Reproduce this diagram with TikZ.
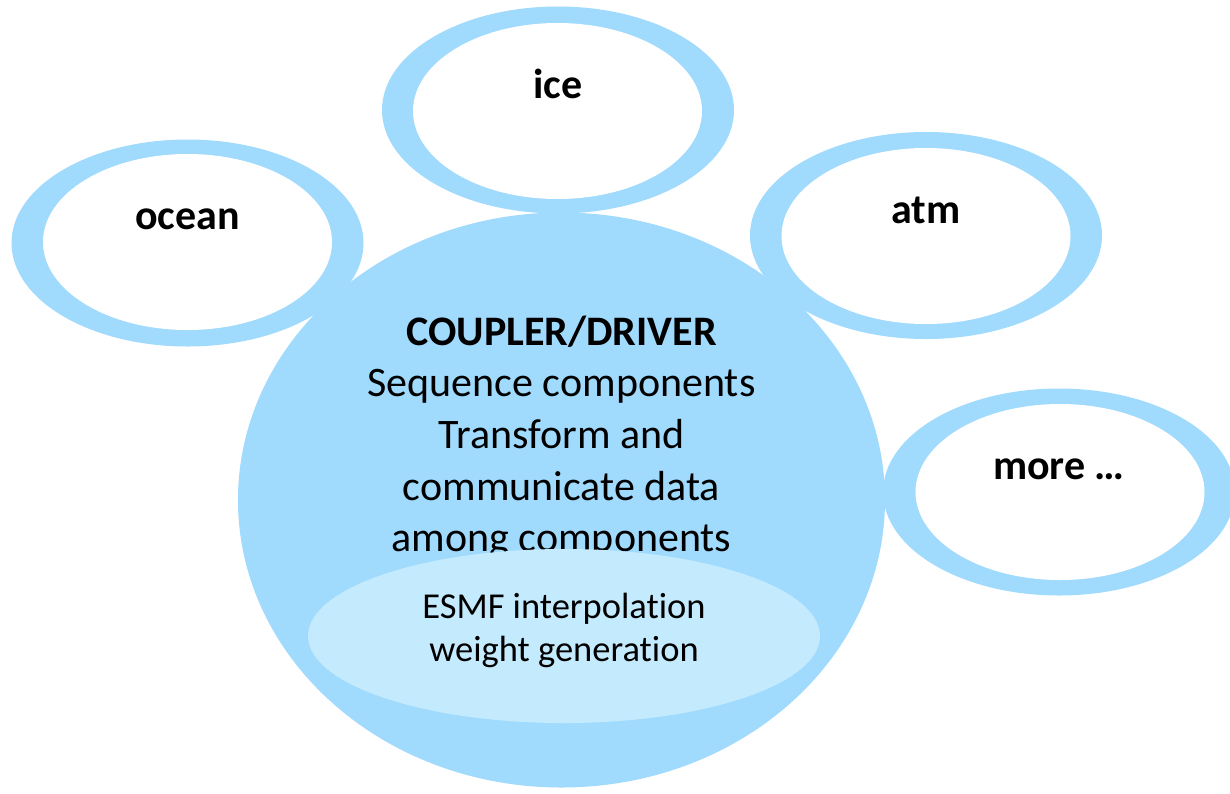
\documentclass[tikz,border=0pt]{standalone}
\usepackage{fontspec}
\setmainfont{Carlito}[Ligatures=NoCommon]
\usetikzlibrary{shapes.geometric}
\definecolor{ringblue}{RGB}{160,218,253}
\definecolor{paleblue}{RGB}{196,235,253}
\tikzset{
  blob/.style={ellipse, inner sep=0pt, draw=none, fill=#1},
  ring/.style={blob=ringblue, minimum width=352pt, minimum height=207pt},
  hole/.style={blob=white, minimum width=289pt, minimum height=176pt},
  tag/.style={anchor=base, inner sep=0pt, font=\fontsize{42}{51}\selectfont\bfseries},
  txt/.style={anchor=base, inner sep=0pt, font=\fontsize{42}{51}\selectfont},
  smalltxt/.style={anchor=base, inner sep=0pt, font=\fontsize{36.5}{43}\selectfont}
}
\begin{document}
\begin{tikzpicture}[x=1pt, y=-1pt]
  \useasboundingbox (0,0) rectangle (1230,793);
  \clip (0,0) rectangle (1230,793);

  % central coupler body
  \node[blob=ringblue, minimum width=647pt, minimum height=575pt] (cpl) at (561.5,500) {};
  \node[tag] (cplhead) at (561.5,345) {COUPLER/DRIVER};
  \node[txt] (cpl1) at (561.5,396.7) {Sequence components};
  \node[txt] (cpl2) at (561.5,448.4) {Transform and};
  \node[txt] (cpl3) at (561.5,500.1) {communicate data};
  \node[txt] (cpl4) at (561.5,551.8) {among components};

  % regridding core inside the coupler
  \node[blob=paleblue, minimum width=512pt, minimum height=174pt] (esmf) at (564,636) {};
  \node[smalltxt] (esmf1) at (564,618) {ESMF interpolation};
  \node[smalltxt] (esmf2) at (564,661) {weight generation};

  % component model rings
  \node[ring] (oceanring) at (187.5,243) {};
  \node[hole] (oceanhole) at (187.5,242) {};
  \node[tag] (ocean) at (187.5,229) {ocean};

  \node[ring] (icering) at (558,110) {};
  \node[hole] (icehole) at (557.5,111) {};
  \node[tag] (ice) at (558,98) {ice};

  \node[ring] (atmring) at (926,235.5) {};
  \node[hole] (atmhole) at (926,236) {};
  \node[tag] (atm) at (926,223) {atm};

  \node[ring] (morering) at (1059,492) {};
  \node[hole] (morehole) at (1060,492) {};
  \node[tag] (more) at (1059,479) {more …};
\end{tikzpicture}
\end{document}
